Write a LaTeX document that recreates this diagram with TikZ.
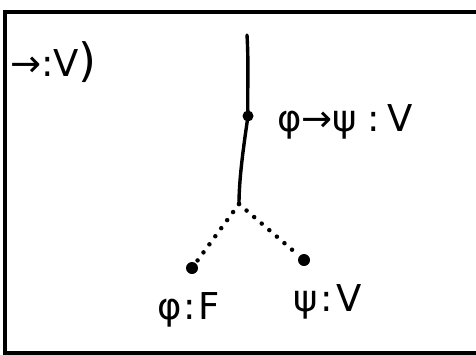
\documentclass[tikz,border=0pt]{standalone}
\usepackage{fontspec}
\setmainfont{DejaVu Sans}
\begin{document}
\begin{tikzpicture}[x=1pt,y=-1pt,
  ink/.style={line width=3.4pt,line cap=round},
  dotline/.style={line width=4.5pt,line cap=round,dash pattern=on 0pt off 10pt},
  blob/.style={circle,fill=black,inner sep=0pt,minimum size=11pt},
  lbl/.style={font=\fontsize{37}{37}\selectfont,inner sep=0pt,anchor=west}]
\useasboundingbox (0,0) rectangle (476,354);
% frame
\draw[line width=4pt] (478,12) -- (5,12) -- (5,353) -- (478,353);
% nodes
\coordinate (top) at (247,35);
\node[blob] (mid) at (248,116) {};
\coordinate (fork) at (239,204);
\node[blob,minimum size=12pt] (left) at (192,268) {};
\node[blob,minimum size=12pt] (right) at (304,260) {};
% trunk
\draw[ink] (top) .. controls (249,70) and (247,95) .. (mid.center);
\draw[ink] (mid.center) .. controls (243,150) and (239,180) .. (fork);
% dotted branches
\draw[dotline] (fork) -- (left);
\draw[dotline] (fork) -- (right);
% labels
\node[lbl] (midlbl) at (277,122) {φ→ψ\hspace{10pt}:\hspace{8pt}V};
\node[lbl] (leftlbl) at (157,310) {φ\hspace{2pt}:\hspace{2pt}F};
\node[lbl] (rightlbl) at (293,302) {ψ\hspace{3pt}:\hspace{3pt}V};
\node[lbl] (toplbl) at (10,62) {→:V\fontsize{46}{46}\selectfont)};
\end{tikzpicture}
\end{document}
